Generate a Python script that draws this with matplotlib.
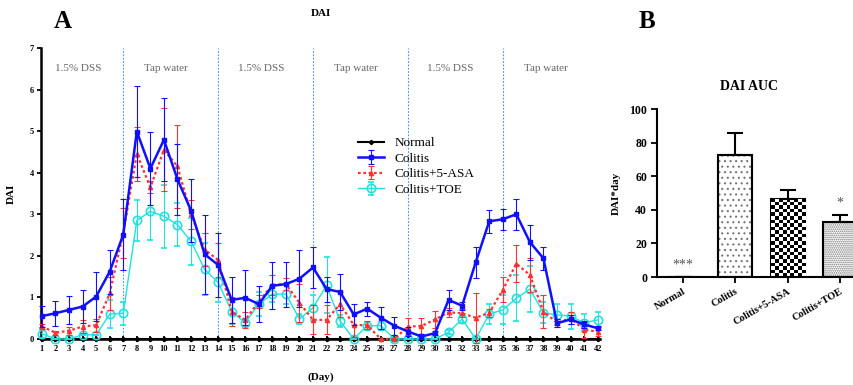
import numpy as np
import matplotlib
matplotlib.use("Agg")
import matplotlib.pyplot as plt

plt.rcParams['font.family'] = ['Liberation Serif', 'DejaVu Serif']
plt.rcParams['hatch.linewidth'] = 0.8

# ---------------- data ----------------
days = list(range(1, 43))

normal = [0.0] * 42

colitis = [0.55, 0.62, 0.70, 0.78, 1.02, 1.62, 2.51, 4.99, 4.10, 4.79, 3.84, 3.09, 2.04, 1.78,
           0.94, 0.99, 0.84, 1.28, 1.32, 1.45, 1.72, 1.20, 1.13, 0.59, 0.73, 0.51, 0.32, 0.18,
           0.06, 0.14, 0.94, 0.80, 1.84, 2.83, 2.88, 3.00, 2.33, 1.94, 0.38, 0.47, 0.35, 0.26]
colitis_err = [0.25, 0.30, 0.33, 0.40, 0.58, 0.53, 0.85, 1.10, 0.87, 1.00, 0.85, 0.75, 0.95, 0.78,
               0.56, 0.66, 0.44, 0.56, 0.54, 0.68, 0.50, 0.30, 0.44, 0.25, 0.17, 0.27, 0.22, 0.10,
               0.05, 0.05, 0.24, 0.10, 0.38, 0.28, 0.25, 0.37, 0.42, 0.27, 0.10, 0.10, 0.08, 0.05]

asa = [0.30, 0.15, 0.20, 0.30, 0.33, 1.10, 2.55, 4.45, 3.65, 4.55, 4.15, 3.00, 2.15, 1.90,
       0.66, 0.46, 0.90, 1.30, 1.32, 0.87, 0.46, 0.46, 0.84, 0.34, 0.33, 0.00, 0.00, 0.30,
       0.31, 0.47, 0.64, 0.62, 0.51, 0.63, 1.18, 1.81, 1.54, 0.66, 0.39, 0.50, 0.22, 0.18]
asa_err = [0.05, 0.05, 0.10, 0.15, 0.15, 0.40, 0.60, 0.65, 0.15, 1.00, 1.00, 0.35, 0.40, 0.40,
           0.35, 0.20, 0.15, 0.25, 0.15, 0.45, 0.35, 0.35, 0.30, 0.30, 0.10, 0.00, 0.00, 0.20,
           0.20, 0.20, 0.10, 0.10, 0.60, 0.10, 0.30, 0.45, 0.40, 0.40, 0.10, 0.15, 0.20, 0.10]

toe = [0.13, 0.00, 0.00, 0.10, 0.10, 0.60, 0.62, 2.85, 3.07, 2.95, 2.75, 2.35, 1.68, 1.36,
       0.66, 0.39, 0.84, 1.08, 1.08, 0.48, 0.75, 1.29, 0.43, 0.00, 0.32, 0.32, 0.00, 0.00,
       0.00, 0.00, 0.16, 0.48, 0.00, 0.60, 0.70, 0.98, 1.20, 0.63, 0.58, 0.55, 0.39, 0.46]
toe_err = [0.10, 0.00, 0.00, 0.00, 0.00, 0.33, 0.28, 0.50, 0.70, 0.75, 0.52, 0.57, 0.62, 0.47,
           0.30, 0.10, 0.28, 0.20, 0.25, 0.12, 0.30, 0.67, 0.15, 0.00, 0.10, 0.10, 0.00, 0.00,
           0.00, 0.00, 0.05, 0.10, 0.00, 0.25, 0.35, 0.55, 0.55, 0.25, 0.25, 0.30, 0.20, 0.20]

phase_bounds = [7, 14, 21, 28, 35]
phase_labels = ["1.5% DSS", "Tap water", "1.5% DSS", "Tap water", "1.5% DSS", "Tap water"]

groups = ["Normal", "Colitis", "Colitis+5-ASA", "Colitis+TOE"]
auc = [0.0, 72.5, 46.5, 33.0]
auc_err = [0.0, 13.0, 5.5, 4.0]
auc_marks = ["***", "", "", "*"]

# ---------------- figure ----------------
fig = plt.figure(figsize=(8.54, 3.85), dpi=100)

BLUE = '#1010ff'
RED = '#ff3030'
CYAN = '#22e0e0'

axA = fig.add_axes([0.048, 0.1195, 0.655, 0.756])
axA.set_xlim(0.93, 42.2)
axA.set_ylim(0, 7)

for b in phase_bounds:
    axA.axvline(b, color='#4a90e2', lw=0.8, ls=(0, (1.5, 1.5)), zorder=1)

edges = [1] + phase_bounds + [42]
for i, lab in enumerate(phase_labels):
    mid = (edges[i] + edges[i + 1]) / 2 - 0.35
    axA.text(mid, 6.5, lab, ha='center', va='center', fontsize=8, color='#666666')

axA.plot(days, normal, color='black', lw=1.5, marker='D', ms=2.2, label='Normal',
         zorder=2, clip_on=False)
eb_kw = dict(capsize=2, elinewidth=0.8, capthick=0.8, clip_on=False)
axA.errorbar(days, toe, yerr=toe_err, color=CYAN, lw=1.0, marker='o', ms=6,
             mfc='none', mec=CYAN, mew=1.2, label='Colitis+TOE', zorder=3, **eb_kw)
axA.errorbar(days, asa, yerr=asa_err, color=RED, lw=1.6, ls=(0, (1.2, 1.2)), marker='^', ms=3,
             mfc=RED, mec=RED, label='Colitis+5-ASA', zorder=4, **eb_kw)
axA.errorbar(days, colitis, yerr=colitis_err, color=BLUE, lw=1.8, marker='s', ms=3.5,
             mfc=BLUE, mec=BLUE, label='Colitis', zorder=5, **eb_kw)

h, l = axA.get_legend_handles_labels()
order = [l.index(n) for n in ["Normal", "Colitis", "Colitis+5-ASA", "Colitis+TOE"]]
axA.legend([h[i] for i in order], [l[i] for i in order], loc='upper left',
           bbox_to_anchor=(0.545, 0.735), frameon=False, fontsize=9.5,
           handlelength=2.0, handletextpad=0.8, labelspacing=0.25)

axA.set_xticks(days)
axA.set_xticklabels([str(d) for d in days], fontsize=6, fontweight='bold')
axA.set_yticks(range(0, 8))
axA.set_yticklabels([str(v) for v in range(0, 8)], fontsize=6, fontweight='bold')
axA.tick_params(axis='x', direction='inout', length=5, width=1.3, pad=2)
axA.tick_params(axis='y', direction='out', length=3, width=1.3, pad=2)
for s in ['top', 'right']:
    axA.spines[s].set_visible(False)
for s in ['left', 'bottom']:
    axA.spines[s].set_linewidth(1.8)
axA.set_ylabel("DAI", fontsize=8, fontweight='bold', labelpad=10)
axA.set_xlabel("(Day)", fontsize=8, fontweight='bold', labelpad=14)
axA.set_title("DAI", fontsize=8, fontweight='bold', pad=23)

fig.text(0.073, 0.943, "A", fontsize=18, fontweight='bold', ha='center', va='center')
fig.text(0.758, 0.943, "B", fontsize=18, fontweight='bold', ha='center', va='center')

# ---------------- panel B ----------------
axB = fig.add_axes([0.769, 0.2805, 0.235, 0.436])
xpos = np.arange(len(groups))
width = 0.65

hatches = [None, '...', None, '........']
bars = axB.bar(xpos, auc, width=width, color='white', edgecolor='black', lw=1.5, zorder=2)
for i, bar in enumerate(bars):
    if hatches[i]:
        bar.set_hatch(hatches[i])
        bar.set_edgecolor('#777777')
        axB.bar(xpos[i], auc[i], width=width, color='none', edgecolor='black', lw=1.5, zorder=3)

# checkerboard fill for 5-ASA bar
ci = 2
nx = 9
ny = max(1, int(round(auc[ci] * 0.47)))
checker = (np.indices((ny, nx)).sum(axis=0) % 2).astype(float)
im = axB.imshow(checker, cmap='gray', interpolation='nearest', aspect='auto',
                extent=[xpos[ci] - width / 2, xpos[ci] + width / 2, 0, auc[ci]], zorder=2.5)
im.set_clip_path(bars[ci])
axB.set_xlim(-0.5, 3.33)
axB.set_ylim(0, 100)

axB.errorbar(xpos, auc, yerr=[np.zeros(len(auc)), auc_err], fmt='none', ecolor='black',
             elinewidth=1.5, capsize=6, capthick=1.5, zorder=4)
for i, m in enumerate(auc_marks):
    if m:
        axB.text(xpos[i], auc[i] + auc_err[i] + 3, m, ha='center', va='bottom',
                 fontsize=10, color='#555555')

axB.set_yticks(range(0, 101, 20))
axB.set_yticklabels([str(v) for v in range(0, 101, 20)], fontsize=8.5, fontweight='bold')
axB.set_xticks(xpos)
axB.set_xticklabels(groups, rotation=30, ha='right', rotation_mode='anchor',
                    fontsize=7.5, fontweight='bold')
axB.tick_params(axis='both', direction='out', length=4, width=1.3, pad=3)
for s in ['top', 'right']:
    axB.spines[s].set_visible(False)
for s in ['left', 'bottom']:
    axB.spines[s].set_linewidth(1.5)
axB.set_ylabel("DAI*day", fontsize=8, fontweight='bold', labelpad=6)
axB.set_title("DAI AUC", fontsize=10, fontweight='bold', pad=14, x=0.46)

fig.savefig("out.png", dpi=100)
